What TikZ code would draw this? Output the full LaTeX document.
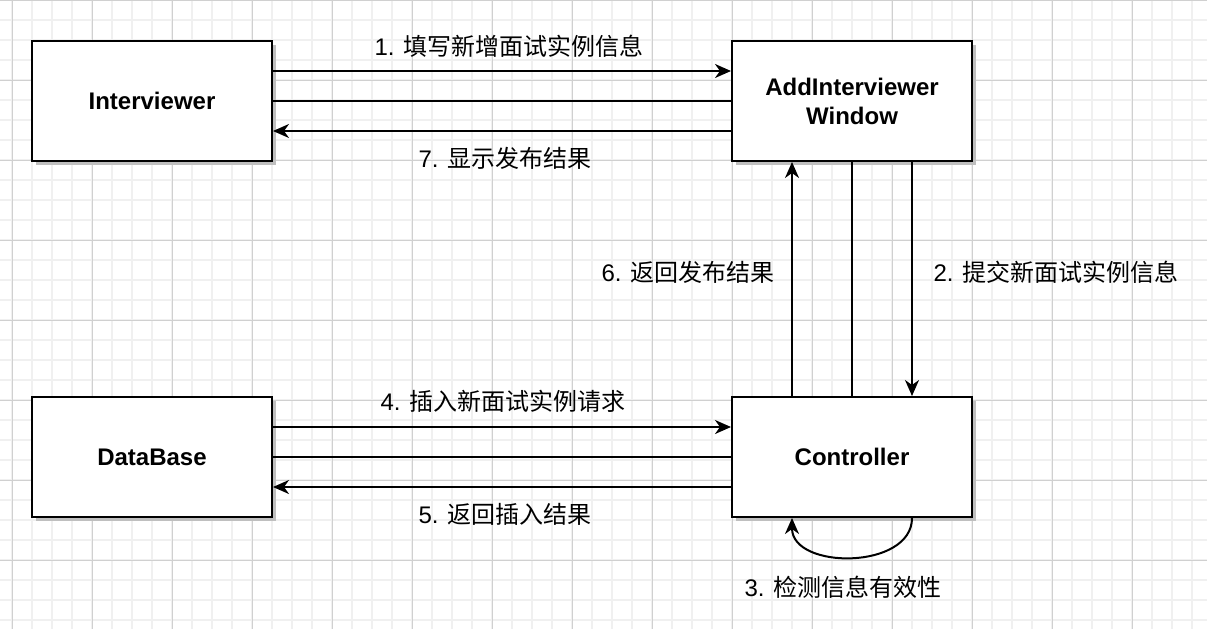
\documentclass[tikz,border=0pt]{standalone}
\usepackage{fontspec}
\setmainfont{Liberation Sans}
\newfontfamily\cjk{Noto Sans CJK SC}
\usetikzlibrary{arrows.meta,shadows}
\definecolor{gridMinor}{HTML}{F0F0F0}
\definecolor{gridMajor}{HTML}{D0D0D0}
\definecolor{shadowGray}{HTML}{BFBFBF}

\begin{document}
\begin{tikzpicture}[x = 1pt, y = -1pt,
  every node/.style = {font = \fontsize{24}{29}\selectfont},
  box/.style = {draw, line width = 2pt, fill = white, minimum width = 240pt, minimum height = 120pt, inner sep = 0pt, align = center, font = \fontsize{24}{29}\selectfont\bfseries, drop shadow = {shadow xshift = 4pt, shadow yshift = -4pt, fill = shadowGray, opacity = 1}},
  link/.style = {line width = 2pt},
  arr/.style = {link, -{Stealth[length = 16pt, width = 14pt, inset = 5pt]}}]
\useasboundingbox (0, 0) rectangle (1207, 629);
\fill[white] (0, 0) rectangle (1207, 629);

\foreach \x in {12, 32, ..., 1212} \draw[gridMinor, line width = 1.5pt] (\x, 0) -- (\x, 629);
\foreach \y in {0, 20, ..., 620} \draw[gridMinor, line width = 1.5pt] (0, \y) -- (1207, \y);
\foreach \x in {12, 92, ..., 1212} \draw[gridMajor, line width = .8pt] (\x, 0) -- (\x, 629);
\foreach \y in {0, 80, ..., 620} \draw[gridMajor, line width = .8pt] (0, \y) -- (1207, \y);

\node (iv) at (152, 101) [box] {Interviewer};
\node (aw) at (852, 101) [box] {AddInterviewer\\Window};
\node (db) at (152, 457) [box] {DataBase};
\node (ct) at (852, 457) [box] {Controller};

\draw[arr] ([yshift = 30pt]iv.east) -- ([yshift = 30pt]aw.west);
\draw[link] (iv.east) -- (aw.west);
\draw[arr] ([yshift = -30pt]aw.west) -- ([yshift = -30pt]iv.east);
\node (s1) at (509, 46) {1. {\cjk 填写新增面试实例信息}};
\node (s7) at (505, 158) {7. {\cjk 显示发布结果}};

\draw[arr] ([xshift = 60pt]aw.south) -- ([xshift = 60pt]ct.north);
\draw[link] (ct.north) -- (aw.south);
\draw[arr] ([xshift = -60pt]ct.north) -- ([xshift = -60pt]aw.south);
\node (s2) at (1056, 272) {2. {\cjk 提交新面试实例信息}};
\node (s6) at (688, 272) {6. {\cjk 返回发布结果}};

\draw[arr] ([xshift = 60pt]ct.south) .. controls +(0, 52) and +(0, 52) .. ([xshift = -60pt]ct.south);
\node (s3) at (843, 587) {3. {\cjk 检测信息有效性}};

\draw[arr] ([yshift = 30pt]db.east) -- ([yshift = 30pt]ct.west);
\draw[link] (db.east) -- (ct.west);
\draw[arr] ([yshift = -30pt]ct.west) -- ([yshift = -30pt]db.east);
\node (s4) at (503, 401) {4. {\cjk 插入新面试实例请求}};
\node (s5) at (505, 514) {5. {\cjk 返回插入结果}};

\end{tikzpicture}
\end{document}
